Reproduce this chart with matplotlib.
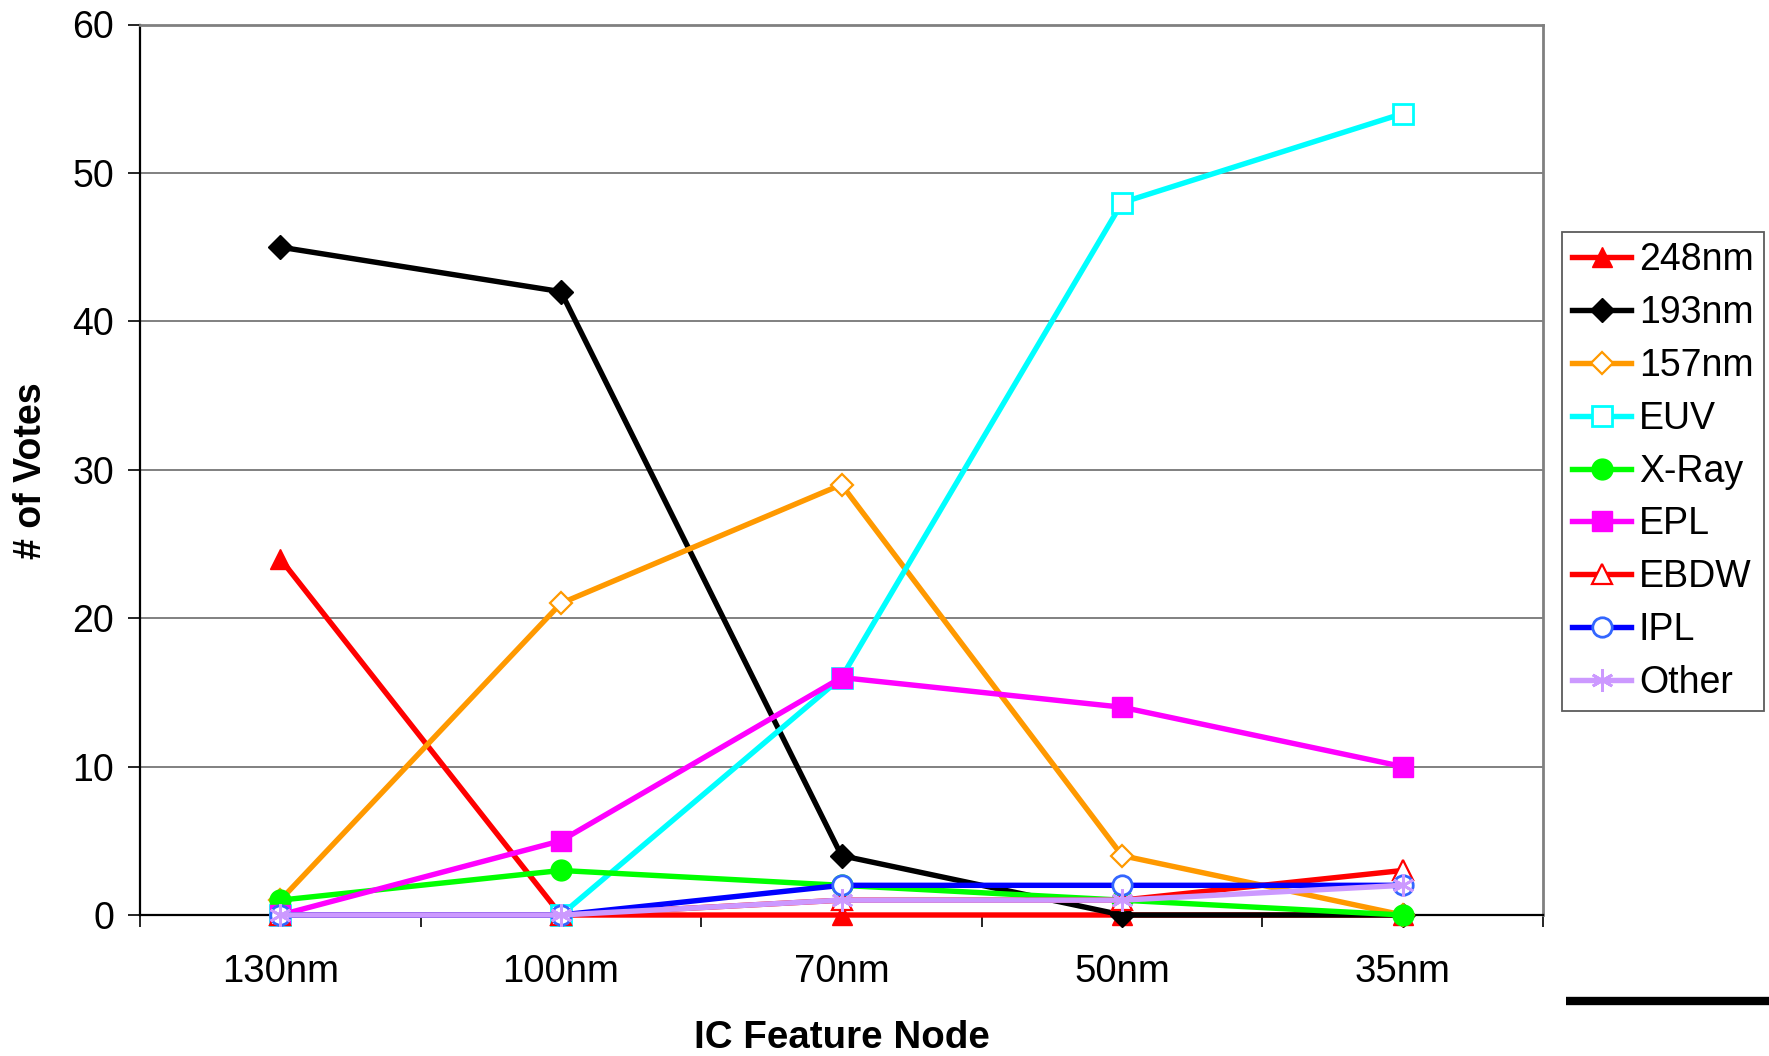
import matplotlib
matplotlib.use("Agg")
import matplotlib.pyplot as plt
from matplotlib.lines import Line2D

plt.rcParams['font.family'] = ['Liberation Sans', 'DejaVu Sans']

categories = ["130nm", "100nm", "70nm", "50nm", "35nm"]
series_names = ["248nm", "193nm", "157nm", "EUV", "X-Ray", "EPL", "EBDW", "IPL", "Other"]
v_248 = [24, 0, 0, 0, 0]
v_193 = [45, 42, 4, 0, 0]
v_157 = [1, 21, 29, 4, 0]
v_euv = [0, 0, 16, 48, 54]
v_xray = [1, 3, 2, 1, 0]
v_epl = [0, 5, 16, 14, 10]
v_ebdw = [0, 0, 1, 1, 3]
v_ipl = [0, 0, 2, 2, 2]
v_other = [0, 0, 1, 1, 2]
values = [v_248, v_193, v_157, v_euv, v_xray, v_epl, v_ebdw, v_ipl, v_other]

styles = [
    dict(color="#FF0000", marker="^", ms=14.5, mfc="#FF0000", mec="#FF0000"),
    dict(color="#000000", marker="D", ms=12, mfc="#000000", mec="#000000"),
    dict(color="#FF9900", marker="D", ms=11.5, mfc="white", mec="#FF9900", mew=1.6),
    dict(color="#00FFFF", marker="s", ms=14, mfc="white", mec="#00FFFF", mew=2.0),
    dict(color="#00FF00", marker="o", ms=15, mfc="#00FF00", mec="#00FF00"),
    dict(color="#FF00FF", marker="s", ms=14.5, mfc="#FF00FF", mec="#FF00FF"),
    dict(color="#FF0000", marker="^", ms=14.5, mfc="white", mec="#FF0000", mew=1.6),
    dict(color="#0000FF", marker="o", ms=14, mfc="white", mec="#3366FF", mew=2.0),
    dict(color="#CC99FF", marker=(6, 2, 0), ms=16, mfc="#CC99FF", mec="#CC99FF", mew=2.0),
]

W, H = 1769, 1056
fig = plt.figure(figsize=(W / 100, H / 100), dpi=100)
L, R, T, B = 140, 1543, 24.5, 915
ax = fig.add_axes([L / W, 1 - B / H, (R - L) / W, (B - T) / H])

x = [i + 0.5 for i in range(len(categories))]
handles = []
for name, vals, st in zip(series_names, values, styles):
    ln, = ax.plot(x, vals, color=st["color"], lw=3.9, marker=st["marker"], ms=st["ms"],
                  mfc=st["mfc"], mec=st["mec"], mew=st.get("mew", 1.0), clip_on=False,
                  label=name, zorder=3)
    handles.append(ln)

ax.set_xlim(0, 5)
ax.set_ylim(0, 60)
ax.set_yticks(range(0, 61, 10))
ax.yaxis.grid(True, color="#808080", lw=1.4)
ax.set_axisbelow(True)

ax.set_xticks(range(0, 6))
ax.set_xticklabels([])
ax.set_xticks(x, minor=True)
ax.set_xticklabels(categories, minor=True)
ax.tick_params(axis="x", which="major", direction="out", length=8.5, width=1.2, color="black")
ax.tick_params(axis="x", which="minor", length=0, pad=28, labelsize=27.5)
ax.tick_params(axis="y", direction="out", length=8.5, width=1.2, color="black", pad=10, labelsize=27)

for s in ["top", "right"]:
    ax.spines[s].set_color("#808080")
    ax.spines[s].set_linewidth(2)
for s in ["left", "bottom"]:
    ax.spines[s].set_color("black")
    ax.spines[s].set_linewidth(1.6)

fig.text(31 / W, 1 - 471 / H, "# of Votes", rotation=90, ha="center", va="center",
         fontsize=27, fontweight="bold")
fig.text(842 / W, 1 - 1037.5 / H, "IC Feature Node", ha="center", va="center",
         fontsize=27.7, fontweight="bold")

leg = fig.legend(handles=handles, loc="upper left", bbox_to_anchor=(1562 / W, 1 - 232 / H),
                 fontsize=27, frameon=True, fancybox=False, edgecolor="#333333",
                 handlelength=1.57, handletextpad=0.21, labelspacing=0.45, borderpad=0.27,
                 borderaxespad=0)
leg.get_frame().set_linewidth(1.3)

fig.add_artist(Line2D([1566 / W, 1.0], [1 - 1001 / H, 1 - 1001 / H], color="black", lw=6,
                      transform=fig.transFigure, solid_capstyle="butt"))

fig.savefig("out.png", dpi=100)
